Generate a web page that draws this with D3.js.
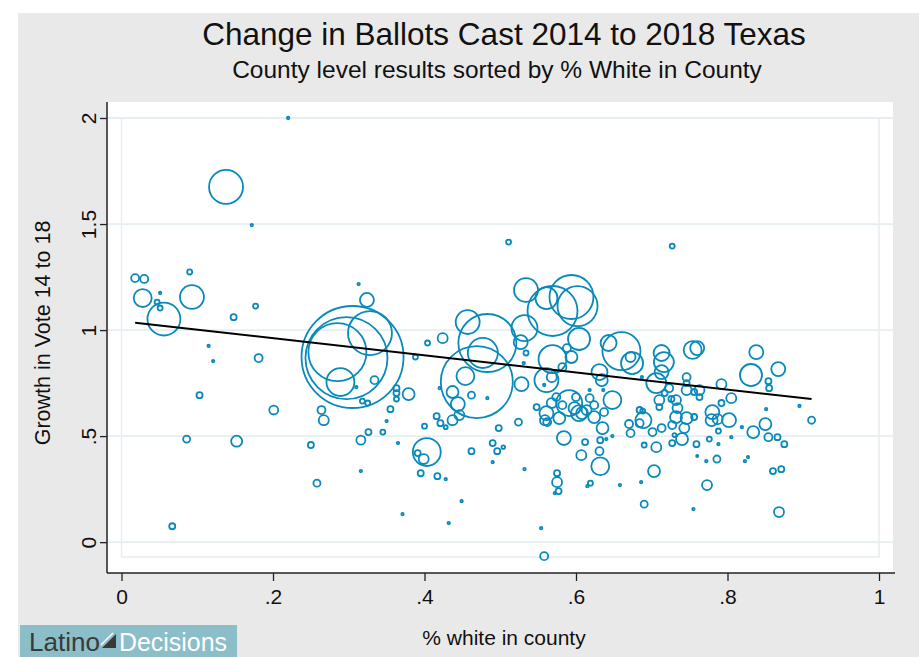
<!DOCTYPE html>
<html>
<head>
<meta charset="utf-8">
<script src="https://cdn.jsdelivr.net/npm/d3@7"></script>
<style>
  body { margin: 0; background: #fff; }
  text { font-family: "Liberation Sans", Arial, sans-serif; }
</style>
</head>
<body>
<svg id="chart" width="919" height="657"></svg>
<script>
// county values: share white, growth in vote 14->18, ballots (thousands)
const pctWhite = [
  0.018, 0.030, 0.028, 0.051, 0.047, 0.051, 0.056, 0.090, 0.093, 0.138,
  0.172, 0.220, 0.148, 0.177, 0.115, 0.121, 0.181, 0.103, 0.201, 0.152,
  0.086, 0.067, 0.250, 0.258, 0.264, 0.267, 0.313, 0.324, 0.305, 0.297,
  0.285, 0.328, 0.289, 0.334, 0.310, 0.318, 0.325, 0.316, 0.326, 0.316,
  0.345, 0.350, 0.355, 0.363, 0.363, 0.363, 0.379, 0.365, 0.371, 0.388,
  0.403, 0.391, 0.399, 0.395, 0.417, 0.428, 0.404, 0.424, 0.420, 0.416,
  0.421, 0.428, 0.400, 0.437, 0.444, 0.437, 0.446, 0.462, 0.483, 0.454,
  0.457, 0.483, 0.477, 0.469, 0.432, 0.449, 0.462, 0.490, 0.496, 0.504,
  0.490, 0.498, 0.524, 0.532, 0.511, 0.534, 0.561, 0.569, 0.594, 0.602,
  0.604, 0.532, 0.527, 0.534, 0.531, 0.528, 0.554, 0.558, 0.569, 0.588,
  0.594, 0.582, 0.561, 0.568, 0.558, 0.548, 0.561, 0.568, 0.574, 0.578,
  0.562, 0.582, 0.600, 0.598, 0.604, 0.591, 0.584, 0.612, 0.632, 0.640,
  0.648, 0.631, 0.607, 0.632, 0.575, 0.575, 0.577, 0.572, 0.619, 0.615,
  0.658, 0.686, 0.690, 0.690, 0.672, 0.701, 0.706, 0.703, 0.631, 0.634,
  0.636, 0.643, 0.660, 0.672, 0.674, 0.687, 0.648, 0.635, 0.624, 0.614,
  0.618, 0.624, 0.608, 0.637, 0.618, 0.670, 0.684, 0.689, 0.688, 0.684,
  0.713, 0.710, 0.717, 0.723, 0.726, 0.732, 0.734, 0.710, 0.706, 0.713,
  0.716, 0.713, 0.746, 0.746, 0.754, 0.760, 0.792, 0.805, 0.746, 0.756,
  0.763, 0.763, 0.792, 0.780, 0.787, 0.802, 0.779, 0.819, 0.805, 0.746,
  0.756, 0.732, 0.727, 0.743, 0.740, 0.727, 0.730, 0.759, 0.776, 0.788,
  0.760, 0.772, 0.786, 0.823, 0.827, 0.834, 0.850, 0.854, 0.866, 0.875,
  0.860, 0.871, 0.773, 0.755, 0.868, 0.838, 0.831, 0.867, 0.854, 0.855,
  0.851, 0.895, 0.911, 0.727, 0.559, 0.788
];
const growth = [
  1.245, 1.241, 1.151, 1.175, 1.132, 1.104, 1.052, 1.274, 1.156, 1.675,
  1.495, 2.000, 1.061, 1.113, 0.925, 0.854, 0.868, 0.693, 0.623, 0.476,
  0.486, 0.075, 0.458, 0.278, 0.623, 0.575, 1.217, 1.142, 0.873, 0.868,
  0.896, 0.986, 0.755, 0.764, 0.731, 0.665, 0.656, 0.481, 0.519, 0.335,
  0.519, 0.571, 0.627, 0.726, 0.703, 0.675, 0.698, 0.467, 0.132, 0.873,
  0.425, 0.420, 0.392, 0.325, 0.311, 0.297, 0.939, 0.962, 0.726, 0.594,
  0.561, 0.542, 0.547, 0.708, 0.651, 0.575, 0.599, 0.693, 0.679, 0.783,
  1.038, 0.939, 0.892, 0.755, 0.090, 0.193, 0.429, 0.467, 0.429, 0.448,
  0.377, 0.538, 0.566, 0.344, 1.415, 1.189, 1.151, 1.090, 1.156, 1.113,
  0.958, 1.009, 0.943, 0.892, 0.844, 0.745, 0.066, -0.066, 0.863, 0.915,
  0.873, 0.825, 0.764, 0.778, 0.741, 0.637, 0.608, 0.656, 0.684, 0.585,
  0.566, 0.646, 0.684, 0.632, 0.608, 0.656, 0.491, 0.472, 0.481, 0.486,
  0.500, 0.429, 0.410, 0.358, 0.325, 0.283, 0.241, 0.231, 0.278, 0.264,
  0.269, 0.283, 0.179, 0.458, 0.514, 0.519, 0.448, 0.335, 0.802, 0.764,
  0.717, 0.939, 0.901, 0.873, 0.844, 0.778, 0.670, 0.538, 0.590, 0.623,
  0.679, 0.646, 0.608, 0.613, 0.717, 0.557, 0.561, 0.575, 0.618, 0.623,
  0.538, 0.670, 0.703, 0.726, 0.675, 0.670, 0.632, 0.637, 0.750, 0.892,
  0.849, 0.802, 0.778, 0.750, 0.906, 0.915, 0.745, 0.679, 0.717, 0.708,
  0.717, 0.684, 0.656, 0.613, 0.580, 0.575, 0.575, 0.542, 0.495, 0.585,
  0.590, 0.590, 0.552, 0.538, 0.486, 0.467, 0.505, 0.462, 0.486, 0.462,
  0.406, 0.382, 0.392, 0.382, 0.401, 0.519, 0.557, 0.495, 0.495, 0.462,
  0.335, 0.344, 0.269, 0.156, 0.142, 0.896, 0.788, 0.816, 0.759, 0.726,
  0.627, 0.642, 0.575, 1.396, 0.575, 0.524
];
const ballots = [
  7.4, 7.4, 37, 0.7, 2.9, 2.9, 125, 2.9, 66, 133,
  0.7, 0.7, 4.2, 2.9, 0.7, 0.7, 7.4, 4.2, 9.3, 14,
  5.7, 4.2, 4.2, 5.7, 7.4, 11.5, 0.7, 22.6, 1200, 776,
  388, 223, 90, 7.4, 0.7, 2.9, 2.9, 9.3, 4.2, 0.7,
  2.9, 0.7, 4.2, 4.2, 4.2, 2.9, 16.6, 0.7, 0.7, 2.9,
  90, 4.2, 11.5, 4.2, 4.2, 0.7, 2.9, 11.5, 0.7, 4.2,
  4.2, 1.8, 2.9, 16.6, 22.6, 11.5, 11.5, 5.7, 0.7, 37,
  66, 388, 104, 598, 0.7, 0.7, 4.2, 4.2, 4.2, 1.5,
  0.7, 4.2, 5.7, 0.7, 2.9, 66, 56, 288, 223, 185,
  56, 78, 22.6, 2.9, 0.7, 22.6, 0.7, 7.4, 90, 7.4,
  16.6, 7.4, 66, 11.5, 0.7, 4.2, 22.6, 11.5, 7.4, 16.6,
  7.4, 7.4, 7.4, 16.6, 29.5, 78, 22.6, 4.2, 4.2, 0.7,
  0.7, 7.4, 11.5, 37, 4.2, 11.5, 4.2, 0.7, 2.9, 0.7,
  0.7, 0.7, 5.7, 2.9, 7.4, 7.4, 11.5, 16.6, 29.5, 16.6,
  0.7, 29.5, 167, 11.5, 56, 0.7, 37, 16.6, 16.6, 11.5,
  7.4, 7.4, 16.6, 7.4, 0.7, 7.4, 7.4, 29.5, 2.9, 4.2,
  7.4, 11.5, 4.2, 7.4, 4.2, 11.5, 11.5, 4.2, 46, 29.5,
  46, 22.6, 7.4, 4.2, 37, 22.6, 11.5, 11.5, 11.5, 4.2,
  11.5, 4.2, 4.2, 22.6, 11.5, 22.6, 16.6, 0.7, 0.7, 16.6,
  4.2, 16.6, 7.4, 11.5, 16.6, 4.2, 1.8, 4.2, 2.9, 0.7,
  0.5, 0.7, 5.7, 0.7, 0.7, 16.6, 16.6, 7.4, 4.2, 4.2,
  4.2, 4.2, 11.5, 0.7, 11.5, 22.6, 56, 22.6, 4.2, 4.2,
  0.7, 0.7, 5.7, 2.9, 11.5, 2.9
];

// fitted line end points
const fitX = [0.018, 0.911];
const fitY = [1.035, 0.675];

const xTicks = [0, 0.2, 0.4, 0.6, 0.8, 1];
const xTickLabels = ["0", ".2", ".4", ".6", ".8", "1"];
const yTicks = [0, 0.5, 1, 1.5, 2];
const yTickLabels = ["0", ".5", "1", "1.5", "2"];

const titleText = "Change in Ballots Cast 2014 to 2018 Texas";
const subtitleText = "County level results sorted by % White in County";
const xTitle = "% white in county";
const yTitle = "Growth in Vote 14 to 18";

const markerColor = "#0a8abb";
const gridColor = "#e6eef1";

let svg = d3.select("#chart");

let x = d3.scaleLinear().domain([0, 1]).range([121.5, 879]);
let y = d3.scaleLinear().domain([-0.07, 2]).range([557, 118]);
let r = d3.scaleSqrt().domain([0, 1200]).range([0, 51]);

// outer gray background + white plot region
svg.append("rect").attr("x", 18).attr("y", 13).attr("width", 901).attr("height", 644).attr("fill", "#e9e9e9");
let plotL = 107, plotR = 893, plotT = 102, plotB = 573;
svg.append("rect").attr("x", plotL).attr("y", plotT)
  .attr("width", plotR - plotL).attr("height", plotB - plotT).attr("fill", "#fff");

// gridlines
svg.append("g").selectAll("line").data(yTicks).join("line")
  .attr("x1", plotL).attr("x2", plotR)
  .attr("y1", d => y(d)).attr("y2", d => y(d))
  .attr("stroke", gridColor).attr("stroke-width", 1.8);

// inner frame
svg.append("rect")
  .attr("x", x(0)).attr("y", y(2))
  .attr("width", x(1) - x(0)).attr("height", y(-0.07) - y(2))
  .attr("fill", "none").attr("stroke", gridColor).attr("stroke-width", 1.5);

// markers
let pts = pctWhite.map((d, i) => ({x: d, y: growth[i], w: ballots[i]}));
svg.append("g").selectAll("circle").data(pts).join("circle")
  .attr("cx", d => x(d.x))
  .attr("cy", d => y(d.y))
  .attr("r", d => r(d.w))
  .attr("fill", "none")
  .attr("stroke", markerColor)
  .attr("stroke-width", 1.8);

// fit line
svg.append("line")
  .attr("x1", x(fitX[0])).attr("y1", y(fitY[0]))
  .attr("x2", x(fitX[1])).attr("y2", y(fitY[1]))
  .attr("stroke", "#000").attr("stroke-width", 2);

// axes
let xAxis = d3.axisBottom(x).tickValues(xTicks)
  .tickFormat((d, i) => xTickLabels[i]).tickSize(8).tickSizeOuter(0).tickPadding(8);
let gx = svg.append("g").attr("transform", `translate(0,${plotB})`).call(xAxis);
gx.select(".domain").remove();
gx.selectAll("line").attr("stroke", "#222").attr("stroke-width", 1.3);
gx.selectAll("text").attr("font-size", 21).attr("fill", "#111")
  .attr("font-family", "Liberation Sans, Arial, sans-serif");

let yAxis = d3.axisLeft(y).tickValues(yTicks)
  .tickFormat((d, i) => yTickLabels[i]).tickSize(7).tickSizeOuter(0);
let gy = svg.append("g").attr("transform", `translate(${plotL},0)`).call(yAxis);
gy.select(".domain").remove();
gy.selectAll("line").attr("stroke", "#222").attr("stroke-width", 1.3);
gy.selectAll("text")
  .attr("transform", "rotate(-90)")
  .attr("x", 0).attr("y", -11).attr("dy", 0)
  .attr("text-anchor", "middle")
  .attr("font-size", 21).attr("fill", "#111")
  .attr("font-family", "Liberation Sans, Arial, sans-serif");

// axis lines
svg.append("line").attr("x1", plotL).attr("x2", plotL).attr("y1", plotT).attr("y2", plotB)
  .attr("stroke", "#222").attr("stroke-width", 1.5);
svg.append("line").attr("x1", plotL).attr("x2", 895).attr("y1", plotB).attr("y2", plotB)
  .attr("stroke", "#222").attr("stroke-width", 1.5);

// titles
svg.append("text").attr("x", 504).attr("y", 45).attr("text-anchor", "middle")
  .attr("font-size", 31.5).attr("fill", "#111").text(titleText);
svg.append("text").attr("x", 497).attr("y", 78).attr("text-anchor", "middle")
  .attr("font-size", 24.5).attr("fill", "#111").text(subtitleText);
svg.append("text").attr("x", 504).attr("y", 645).attr("text-anchor", "middle")
  .attr("font-size", 21).attr("fill", "#111").text(xTitle);
svg.append("text").attr("transform", "translate(50,333) rotate(-90)").attr("text-anchor", "middle")
  .attr("font-size", 21.5).attr("fill", "#111").text(yTitle);

// logo
let logo = svg.append("g");
logo.append("rect").attr("x", 20).attr("y", 625).attr("width", 217).attr("height", 32).attr("fill", "#8bbec8");
logo.append("text").attr("x", 29).attr("y", 651).attr("font-size", 25)
  .attr("textLength", 71).attr("lengthAdjust", "spacingAndGlyphs")
  .attr("fill", "#3a3a3a").text("Latino");
logo.append("path").attr("d", "M102,648 L116,634 L116,648 Z").attr("fill", "#3a3a3a");
logo.append("line").attr("x1", 101).attr("y1", 645).attr("x2", 113).attr("y2", 633)
  .attr("stroke", "#fff").attr("stroke-width", 1.5);
logo.append("text").attr("x", 119).attr("y", 651).attr("font-size", 25)
  .attr("textLength", 108).attr("lengthAdjust", "spacingAndGlyphs")
  .attr("fill", "#fff").text("Decisions");
</script>
</body>
</html>
